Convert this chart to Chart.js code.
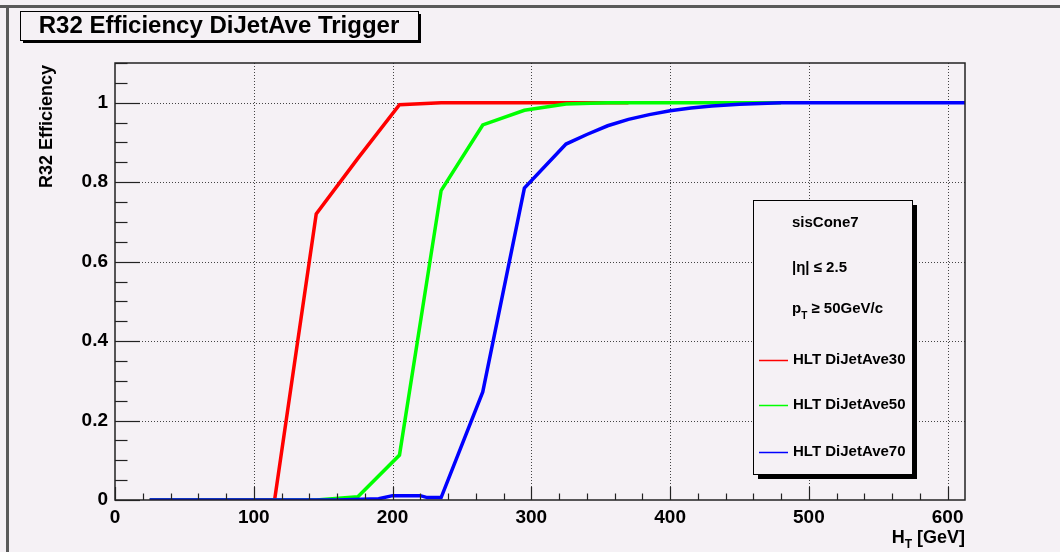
<!DOCTYPE html>
<html>
<head>
<meta charset="utf-8">
<script src="https://cdn.jsdelivr.net/npm/chart.js@4.4.0/dist/chart.umd.min.js"></script>
<style>
  html, body { margin: 0; padding: 0; background: #f5f1f5; }
  #wrap { width: 1060px; height: 552px; }
</style>
</head>
<body>
<div id="wrap"><canvas id="effChart" width="1060" height="552"></canvas></div>
<script>
// HT values (GeV) and efficiencies
const redX   = [25, 55, 85, 115, 145, 175, 205, 235, 370];
const redY   = [0, 0, 0, 0, 0.72, 0.86, 0.995, 1.0, 1.0];

const greenX = [25, 55, 85, 115, 145, 175, 205, 235, 265, 295, 325, 355, 480];
const greenY = [0, 0, 0, 0, 0, 0.008, 0.113, 0.779, 0.944, 0.981, 0.997, 1.0, 1.0];

const blueX  = [25, 55, 85, 115, 145, 160, 190, 200, 220, 225, 235, 265, 295, 325, 340, 355, 370, 385, 400, 415, 430, 450, 480, 612.5];
const blueY  = [0, 0, 0, 0, 0, 0, 0.003, 0.011, 0.011, 0.006, 0.006, 0.272, 0.785, 0.896, 0.92, 0.942, 0.958, 0.97, 0.98, 0.987, 0.992, 0.996, 1.0, 1.0];

const seriesNames = ['HLT DiJetAve30', 'HLT DiJetAve50', 'HLT DiJetAve70'];
const seriesColors = ['#ff0000', '#00ff00', '#0000ff'];
const legendNotes = ['sisCone7', '|\u03b7| \u2264 2.5'];

const xTicks = [0, 100, 200, 300, 400, 500, 600];
const yTicks = [0, 0.2, 0.4, 0.6, 0.8, 1];

const BG = '#f5f1f5';
const FONT = "'Liberation Sans', Arial, Helvetica, sans-serif";

function toPoints(xs, ys) {
    return xs.map((x, i) => ({ x: x, y: ys[i] }));
}

function dotted(ctx, x1, y1, x2, y2) {
    ctx.save();
    ctx.strokeStyle = '#444';
    ctx.lineWidth = 1;
    ctx.setLineDash([1, 2]);
    ctx.beginPath();
    ctx.moveTo(x1, y1);
    ctx.lineTo(x2, y2);
    ctx.stroke();
    ctx.restore();
}

function line(ctx, x1, y1, x2, y2) {
    ctx.beginPath();
    ctx.moveTo(x1, y1);
    ctx.lineTo(x2, y2);
    ctx.stroke();
}

function shadowBox(ctx, x, y, w, h, off) {
    ctx.fillStyle = '#000';
    ctx.fillRect(x + off, y + off, w, h);
    ctx.fillStyle = BG;
    ctx.fillRect(x, y, w, h);
    ctx.strokeStyle = '#000';
    ctx.lineWidth = 1;
    ctx.strokeRect(x + 0.5, y + 0.5, w, h);
}

const rootStyle = {
    id: 'rootStyle',
    beforeDraw(chart) {
        const ctx = chart.ctx;
        ctx.save();
        ctx.fillStyle = BG;
        ctx.fillRect(0, 0, chart.width, chart.height);
        // outer pad border
        ctx.fillStyle = '#5a5a5a';
        ctx.fillRect(0, 5, chart.width, 3);
        ctx.fillRect(6, 5, 3, chart.height - 5);
        // title box
        shadowBox(ctx, 20, 11, 398, 29, 3);
        ctx.fillStyle = '#000';
        ctx.font = 'bold 24px ' + FONT;
        ctx.textAlign = 'center';
        ctx.textBaseline = 'middle';
        ctx.fillText('R32 Efficiency DiJetAve Trigger', 219, 26);
        ctx.restore();
    },
    beforeDatasetsDraw(chart) {
        const ctx = chart.ctx;
        const a = chart.chartArea;
        const xs = chart.scales.x, ys = chart.scales.y;
        xTicks.forEach(v => {
            if (v === 0) return;
            const px = Math.round(xs.getPixelForValue(v)) + 0.5;
            dotted(ctx, px, a.top, px, a.bottom);
        });
        yTicks.forEach(v => {
            if (v === 0) return;
            const py = Math.round(ys.getPixelForValue(v)) + 0.5;
            dotted(ctx, a.left, py, a.right, py);
        });
    },
    afterDatasetsDraw(chart) {
        const ctx = chart.ctx;
        const a = chart.chartArea;
        const xs = chart.scales.x, ys = chart.scales.y;
        ctx.save();
        ctx.strokeStyle = '#222';
        ctx.lineWidth = 1.5;
        ctx.strokeRect(a.left, a.top, a.right - a.left, a.bottom - a.top);

        // y ticks (inside the frame)
        ctx.lineWidth = 1.2;
        for (let k = 0; k <= 22; k++) {
            const v = k * 0.05;
            const py = Math.round(ys.getPixelForValue(v)) + 0.5;
            const len = (k % 4 === 0) ? 25 : 12.5;
            line(ctx, a.left, py, a.left + len, py);
        }
        // x ticks
        for (let v = 0; v <= 612; v += 20) {
            const px = Math.round(xs.getPixelForValue(v)) + 0.5;
            const len = (v % 100 === 0) ? 13 : 6.5;
            line(ctx, px, a.bottom, px, a.bottom - len);
        }

        // legend pave
        const lx = 753, ly = 200, lw = 159, lh = 274;
        shadowBox(ctx, lx, ly, lw, lh, 5);
        ctx.fillStyle = '#000';
        ctx.font = 'bold 15px ' + FONT;
        ctx.textAlign = 'left';
        ctx.textBaseline = 'middle';
        ctx.fillText(legendNotes[0], 792, 223);
        ctx.fillText(legendNotes[1], 792, 268);
        // p_T >= 50GeV/c
        ctx.fillText('p', 792, 309);
        const pw = ctx.measureText('p').width;
        ctx.font = 'bold 10px ' + FONT;
        ctx.fillText('T', 792 + pw, 316);
        const tw = ctx.measureText('T').width;
        ctx.font = 'bold 15px ' + FONT;
        ctx.fillText(' \u2265 50GeV/c', 792 + pw + tw, 309);

        const rowY = [360, 405, 452];
        seriesNames.forEach((name, i) => {
            ctx.strokeStyle = seriesColors[i];
            ctx.lineWidth = 1.5;
            line(ctx, 759, rowY[i] + 0.5, 788, rowY[i] + 0.5);
            ctx.fillStyle = '#000';
            ctx.fillText(name, 793, rowY[i]);
        });

        // axis titles
        ctx.font = 'bold 18px ' + FONT;
        ctx.fillStyle = '#000';
        ctx.textBaseline = 'alphabetic';
        const rest = ' [GeV]';
        const wRest = ctx.measureText(rest).width;
        const wH = ctx.measureText('H').width;
        ctx.font = 'bold 12px ' + FONT;
        const wT = ctx.measureText('T').width;
        let x0 = a.right - wRest - wT - wH;
        ctx.font = 'bold 18px ' + FONT;
        ctx.fillText('H', x0, 543);
        ctx.font = 'bold 12px ' + FONT;
        ctx.fillText('T', x0 + wH, 548);
        ctx.font = 'bold 18px ' + FONT;
        ctx.fillText(rest, x0 + wH + wT, 543);

        ctx.save();
        ctx.translate(47, 65);
        ctx.rotate(-Math.PI / 2);
        ctx.textAlign = 'right';
        ctx.textBaseline = 'middle';
        ctx.fillText('R32 Efficiency', 0, 0);
        ctx.restore();
        ctx.restore();
    }
};

const ctx = document.getElementById('effChart');
new Chart(ctx, {
    type: 'scatter',
    data: {
        datasets: [
            { label: seriesNames[0], data: toPoints(redX, redY), borderColor: seriesColors[0], order: 3 },
            { label: seriesNames[1], data: toPoints(greenX, greenY), borderColor: seriesColors[1], order: 2 },
            { label: seriesNames[2], data: toPoints(blueX, blueY), borderColor: seriesColors[2], order: 1 }
        ].map(d => Object.assign(d, {
            showLine: true,
            borderWidth: 3.5,
            pointRadius: 0,
            tension: 0,
            fill: false,
            borderJoinStyle: 'miter'
        }))
    },
    options: {
        responsive: false,
        animation: false,
        devicePixelRatio: 1,
        layout: { padding: { left: 0, top: 63, right: 95, bottom: 0 } },
        plugins: { legend: { display: false }, tooltip: { enabled: false } },
        scales: {
            x: {
                type: 'linear',
                min: 0,
                max: 612.5,
                grid: { display: false, drawTicks: false },
                border: { display: false },
                afterFit: s => { s.height = 52; },
                afterBuildTicks: s => { s.ticks = xTicks.map(v => ({ value: v })); },
                ticks: {
                    color: '#000',
                    padding: 6,
                    maxRotation: 0,
                    font: { family: FONT, size: 19, weight: 'bold' }
                }
            },
            y: {
                type: 'linear',
                min: 0,
                max: 1.1,
                grid: { display: false, drawTicks: false },
                border: { display: false },
                afterFit: s => { s.width = 115; },
                afterBuildTicks: s => { s.ticks = yTicks.map(v => ({ value: v })); },
                ticks: {
                    color: '#000',
                    padding: 7,
                    font: { family: FONT, size: 19, weight: 'bold' },
                    callback: v => String(Math.round(v * 10) / 10)
                }
            }
        }
    },
    plugins: [rootStyle]
});
</script>
</body>
</html>
